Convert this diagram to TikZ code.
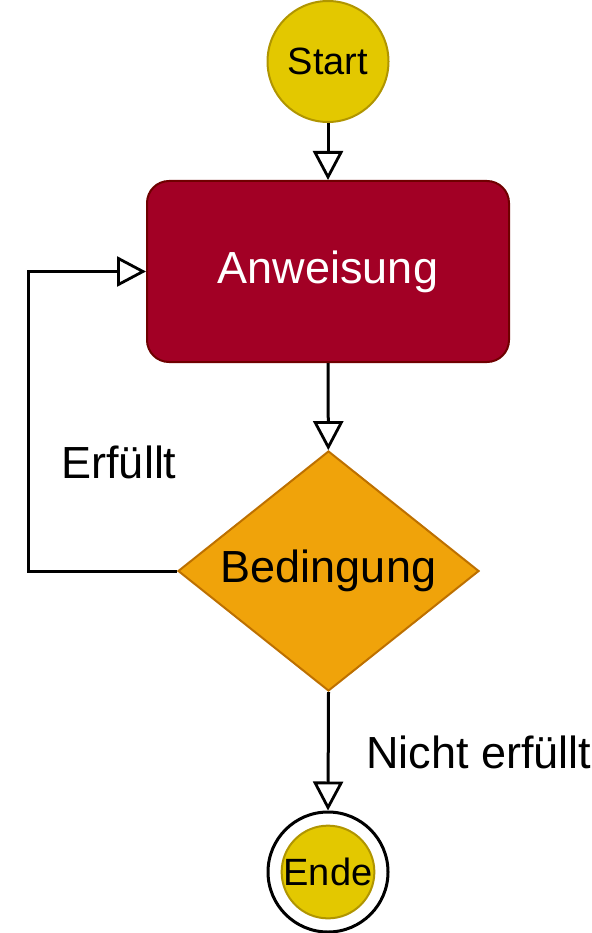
\documentclass[tikz,border=0pt]{standalone}
\usepackage{fontspec}
\setmainfont{Liberation Sans}
\usetikzlibrary{arrows.meta,shapes.geometric}
\definecolor{startfill}{HTML}{E3C800}
\definecolor{startline}{HTML}{B09500}
\definecolor{redfill}{HTML}{A20025}
\definecolor{redline}{HTML}{6F0000}
\definecolor{orfill}{HTML}{F0A30A}
\definecolor{orline}{HTML}{BD7000}
\begin{document}
\begin{tikzpicture}[x=1pt,y=-1pt,
  term/.style={circle, fill=startfill, draw=startline, line width=2pt, inner sep=0pt, font=\fontsize{38}{40}\selectfont},
  flow/.style={line width=3pt, -{Triangle[fill=white, length=29pt, width=30pt, line width=2.8pt]}},
  lbl/.style={font=\fontsize{45}{50}\selectfont}]
\useasboundingbox (0,0) rectangle (591,933);
\node[term, minimum size=121pt] (start) at (328,61.5) {Start};
\node[rectangle, rounded corners=22pt, fill=redfill, draw=redline, line width=2pt,
  minimum width=362pt, minimum height=181pt, inner sep=0pt, text=white, lbl] (anw) at (328,271.5) {Anweisung};
\node[diamond, fill=orfill, draw=orline, line width=2pt, minimum width=301pt, minimum height=240pt,
  inner sep=0pt, aspect=1.254, lbl] (bed) at (328.5,571) {Bedingung};
\node[circle, draw=black, fill=white, line width=3pt, minimum size=120pt, inner sep=0pt] (endo) at (328,872) {};
\node[term, minimum size=92pt] (ende) at (328,872) {Ende};
\coordinate (lp) at (28,571);
\draw[flow] (start) -- (anw);
\draw[flow] (anw) -- (bed);
\draw[flow] (bed.west) -- (lp) |- (anw.west);
\draw[flow] (bed.south) -- (endo.north);
\node[lbl] (erf) at (119,462) {Erfüllt};
\node[lbl] (nerf) at (479,752) {Nicht erfüllt};
\end{tikzpicture}
\end{document}
